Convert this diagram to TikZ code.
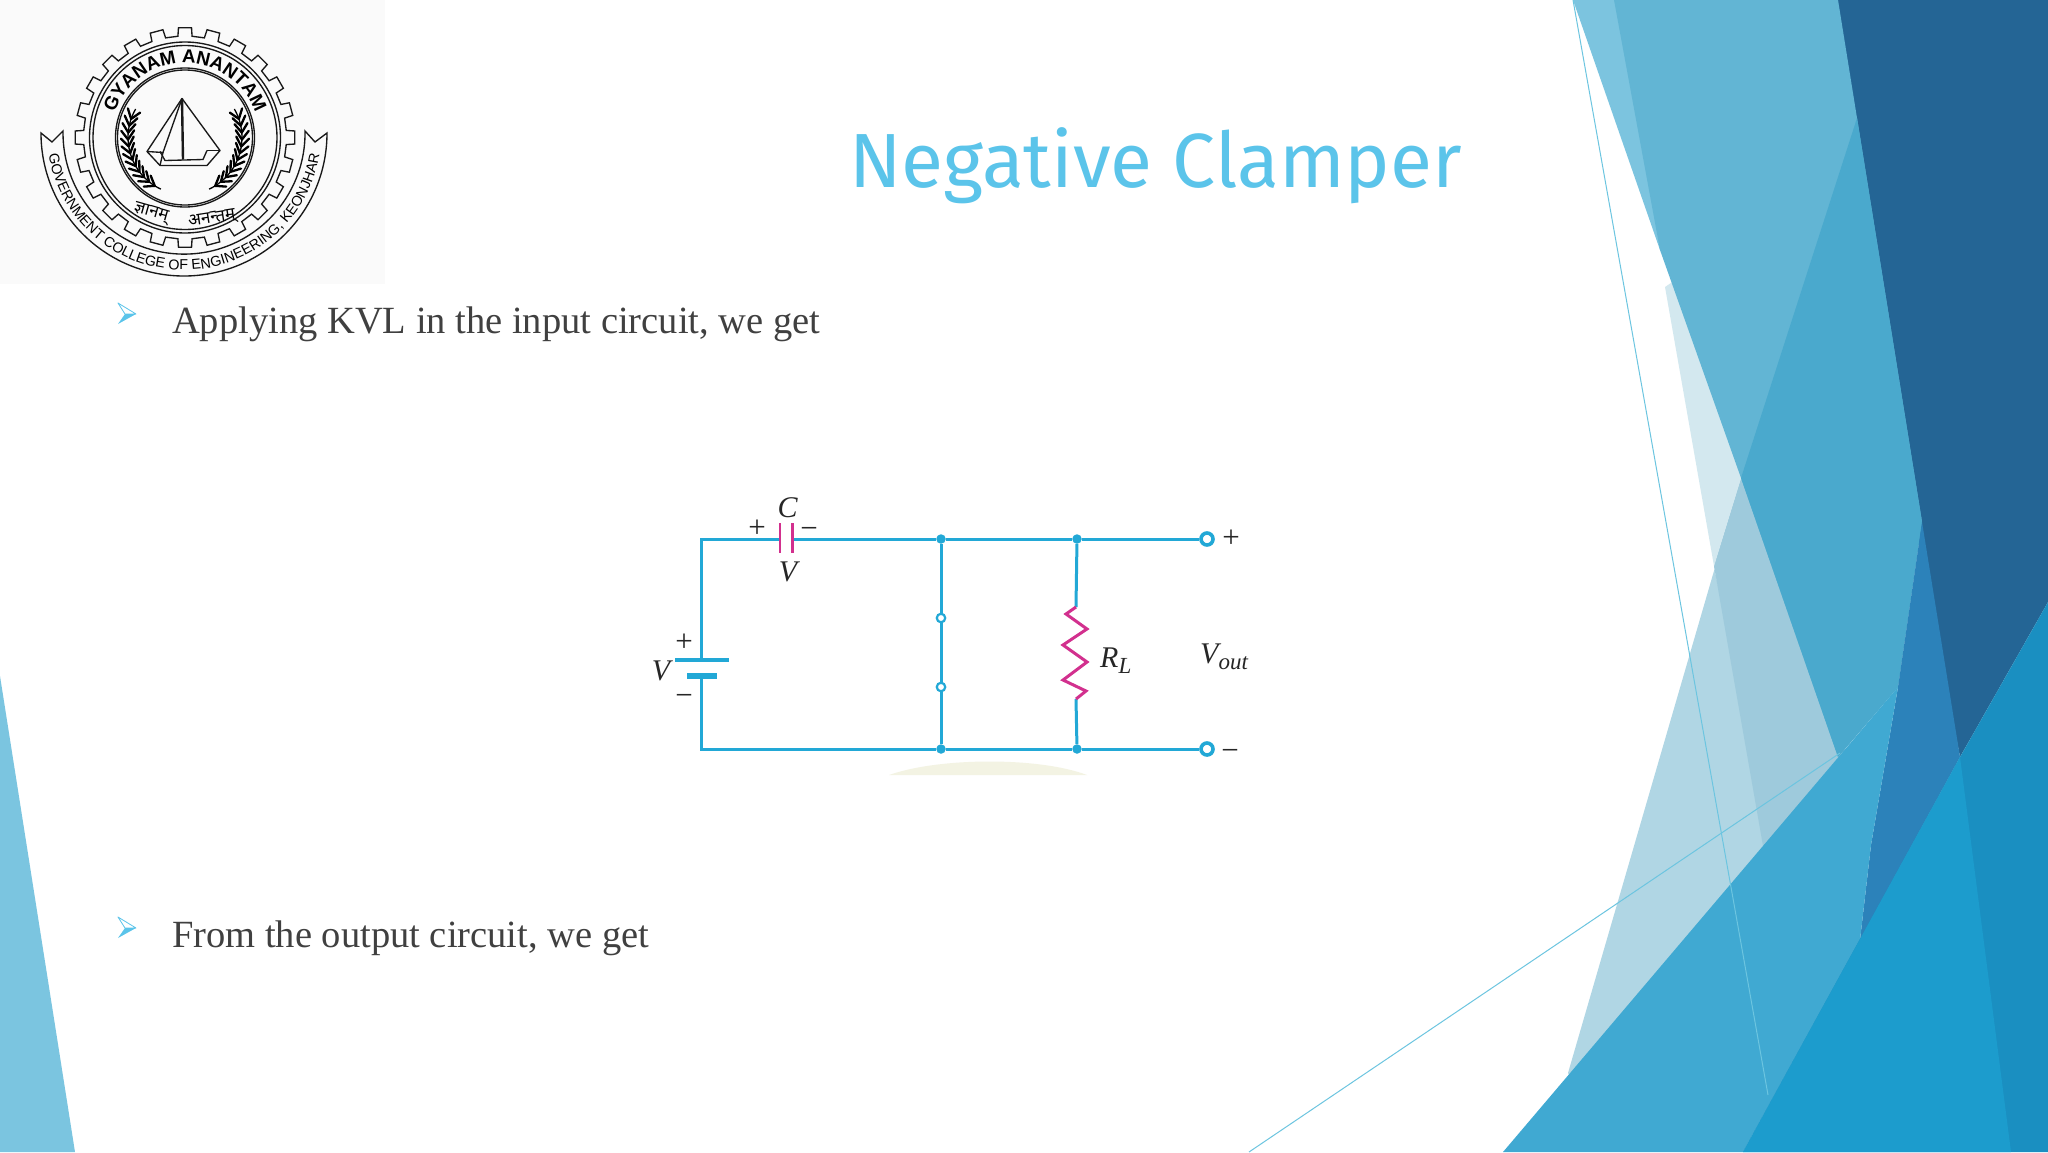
\documentclass[tikz,border=0pt]{standalone}
\usepackage{fontspec}
\setmainfont{Liberation Serif}
\newfontfamily\titlefont{Fira Sans}
\newfontfamily\logofont{Liberation Sans}
\newfontfamily\devfont[Script=Devanagari]{Noto Sans}
\usetikzlibrary{decorations.text}
\definecolor{wirecol}{HTML}{22A8D6}
\definecolor{pinkcol}{HTML}{D2308E}
\definecolor{txtcol}{HTML}{404040}
\definecolor{ttlcol}{HTML}{5BC4EA}
\definecolor{facA}{HTML}{D3E8EF}\definecolor{facB}{HTML}{B0D6E4}\definecolor{facC}{HTML}{9ECADC}
\definecolor{facD}{HTML}{62B5D4}\definecolor{facE}{HTML}{7CC4DF}\definecolor{facF}{HTML}{4AA9CD}
\definecolor{facG}{HTML}{246595}\definecolor{facH}{HTML}{2C82BA}\definecolor{facI}{HTML}{1A8FC1}
\definecolor{facJ}{HTML}{40A9D2}\definecolor{facK}{HTML}{1C9CCD}\definecolor{facL}{HTML}{7BC5E0}
\definecolor{palecol}{HTML}{F3F3E3}
\definecolor{linecol}{HTML}{6CC5E0}
\tikzset{
  wire/.style={draw=wirecol,line width=3pt},
  plate/.style={draw=pinkcol,line width=2.4pt},
  dotn/.style={circle,fill=wirecol,inner sep=0pt,minimum size=9.5pt},
  ringn/.style={circle,draw=wirecol,fill=white,line width=2.2pt,inner sep=0pt,minimum size=8.5pt},
  term/.style={circle,draw=wirecol,fill=white,line width=3.6pt,inner sep=0pt,minimum size=12pt},
  bodytxt/.style={anchor=base west,inner sep=0pt,text=txtcol,font=\fontsize{38.5}{38.5}\selectfont},
  lab/.style={inner sep=0pt,font=\fontsize{30}{30}\selectfont\itshape,text=black!85},
  sym/.style={inner sep=0pt,font=\fontsize{31}{31}\selectfont,text=black!85},
  thinln/.style={draw=linecol,line width=1pt},
  logoln/.style={draw=black!90,line width=1.35pt},
}
\newcommand{\sprigdraw}{%
  \draw[line width=1.3pt,black] (245:57) arc (245:150:57);
  \foreach \a in {238,231,...,155}{
    \draw[line width=2.3pt,line cap=round,black] (\a:57) -- ++(\a-90+36:11);
    \draw[line width=2.3pt,line cap=round,black] (\a:57) -- ++(\a-90-36:11);
  }
}
\begin{document}
\begin{tikzpicture}[x=1pt,y=-1pt]
\useasboundingbox (0,0) rectangle (2048,1152);
\fill[white] (0,0) rectangle (2048,1152);
% --- background facets, right side
\fill[facG] (1830,0) -- (2048,0) -- (2048,602) -- (1960,757) -- (1915,522) -- cycle;
\fill[facE] (1573,0) -- (1620,0) -- (1665,255) -- (1660,250) -- cycle;
\fill[facB] (1741,478) -- (1714,566) -- (1770,850) -- (1575,1085) -- (1568,1073) -- cycle;
\fill[facC] (1741,478) -- (1846,752) -- (1775,850) -- (1763,846) -- (1714,566) -- cycle;
\fill[facA] (1665,287) -- (1690,270) -- (1750,470) -- (1741,478) -- (1714,566) -- cycle;
\fill[facD] (1614,0) -- (1838,0) -- (1922,522) -- (1898,687) -- (1838,757) -- (1741,478) -- (1660,250) -- cycle;
\fill[facF] (1857,118) -- (1922,522) -- (1898,687) -- (1838,757) -- (1741,478) -- cycle;
\fill[facH] (1922,522) -- (1960,757) -- (1860,940) -- (1871,845) -- (1898,687) -- cycle;
\fill[facJ] (1898,687) -- (1503,1152) -- (1743,1152) -- (1860,940) -- (1871,845) -- cycle;
\fill[facI] (2048,602) -- (2048,1152) -- (1743,1152) -- (1960,757) -- cycle;
\fill[facK] (1960,757) -- (1743,1152) -- (2011,1152) -- cycle;
\coordinate (l1a) at (1573,0);\coordinate (l1b) at (1768,1095);
\coordinate (l2a) at (1249,1152);\coordinate (l2b) at (1840,753);
\draw[thinln] (l1a) -- (l1b);
\draw[thinln] (l2a) -- (l2b);
% --- bottom-left facet
\fill[facL] (0,676) -- (75,1152) -- (0,1152) -- cycle;
% --- logo
\fill[black!2] (0,0) rectangle (385,284);
\begin{scope}[shift={(185,137.5)},x=1pt,y=1pt]
  \draw[logoln] (-4:101.5) \foreach \i in {0,15,...,345}{
     -- (\i-4.0:101.5) -- (\i-3.4:110) -- (\i+3.4:110) -- (\i+4.0:101.5) -- (\i+11:101.5)
  } -- cycle;
  \draw[logoln] (0,0) circle (95.5);
  \draw[logoln] (0,0) circle (92);
  \draw[logoln] (0,0) circle (69.5);
  \draw[logoln] (0,0) circle (67.5);
  % top text
  \path[decorate,decoration={text along path,text align=center,
     text={|\logofont\bfseries\fontsize{18.8}{18.8}\selectfont|GYANAM ANANTAM}}]
     (175:74.5) arc (175:5:74.5);
  % sprigs
  \begin{scope}\sprigdraw\end{scope}
  \begin{scope}[xscale=-1]\sprigdraw\end{scope}
  % diamond
  \draw[logoln,line join=round] (-3,39) -- (-38,-14) -- (-25,-28) -- (22,-28) -- (35,-13) -- cycle;
  \draw[logoln] (-38,-14) -- (-22,-15) -- (-25,-28);
  \draw[logoln] (-22,-15) -- (-3,39);
  \draw[logoln] (22,-13) -- (35,-13);
  \draw[logoln] (22,-13) -- (18,-22) -- (-20,-23) -- (-25,-14);
  \draw[black!90,line width=2.4pt] (-3,39) -- (-2,-22);
  % banner
  \begin{scope}[shift={(-1,4.5)}]
    \draw[logoln,line join=miter]
      (180:143) arc (180:360:143) -- (131,-9) -- (121,2) arc (361:179:121) -- (-132,-9) -- cycle;
    \path[decorate,decoration={text along path,text align=center,
      text={|\logofont\fontsize{14.3}{14.3}\selectfont|GOVERNMENT COLLEGE OF ENGINEERING, KEONJHAR}}]
      (180:137) arc (180:360:137);
  \end{scope}
  \node[inner sep=0pt,rotate=-16,font=\devfont\fontsize{17}{17}\selectfont] (dv1) at (-34,-76) {ज्ञानम्};
  \node[inner sep=0pt,rotate=9,font=\devfont\fontsize{17}{17}\selectfont] (dv2) at (27,-82) {अनन्तम्};
\end{scope}
% --- title
\node[anchor=base west,inner sep=0pt,text=ttlcol,font=\titlefont\fontsize{76.8}{76.8}\selectfont] (title) at (849,187) {Negative Clamper};
% --- bullets and text
\foreach \yo in {0,614}{
  \begin{scope}[yshift=-\yo pt]
    \fill[ttlcol] (118,324) -- (136,314) -- (125,314) -- cycle;
    \draw[ttlcol,line width=0.8pt,line join=round] (118,303) -- (136,314) -- (125,314) -- cycle;
  \end{scope}
}
\node[bodytxt] (t1) at (172,333) {Applying KVL in the input circuit, we get};
\node[bodytxt] (t2) at (172,947) {From the output circuit, we get};
% --- circuit
\fill[palecol] (889,775) .. controls (940,757) and (1040,757) .. (1087,775) -- cycle;
\coordinate (tl) at (701.5,539);
\coordinate (bl) at (701.5,749);
\coordinate (batA) at (701.5,660);
\coordinate (batB) at (701.5,676);
\coordinate (capA) at (780,539);
\coordinate (capB) at (792.5,539);
\node[dotn] (n1) at (941,539) {};
\node[dotn] (n2) at (1077,539) {};
\node[dotn] (n3) at (941,749) {};
\node[dotn] (n4) at (1077,749) {};
\node[term] (to) at (1207,539) {};
\node[term] (bo) at (1207,749) {};
\coordinate (ra) at (1076,607);
\coordinate (rb) at (1076,699);
\draw[wire,line join=miter] (batA) -- (tl) -- (capA);
\draw[wire] (capB) -- (n1) -- (n2) -- (to);
\draw[wire,line join=miter] (batB) -- (bl) -- (n3) -- (n4) -- (bo);
\draw[wire] (n1) -- (n3);
\draw[wire] (n2) -- (ra);
\draw[wire] (rb) -- (n4);
\node[ringn] (d1) at (941,618) {};
\node[ringn] (d2) at (941,687) {};
\draw[plate] (780,523) -- (780,553);
\draw[plate] (792.5,523) -- (792.5,553);
\draw[wire,line width=3.2pt] (675,660) -- (729,660);
\draw[wire,line width=5.5pt] (687,676) -- (717,676);
\draw[draw=pinkcol,line width=3pt,line join=miter] (ra) -- (1066,614) -- (1087,629) -- (1063,645) -- (1087,662) -- (1063,680) -- (1086,691) -- (rb);
\node[lab] (lc) at (787.5,508) {C};
\node[lab] (lv) at (788,572) {V};
\node[sym] (lp) at (757,529) {+};
\node[sym] (lm) at (809,533) {\textminus};
\node[sym] (tp) at (1231,539) {+};
\node[sym] (tm) at (1230,755) {\textminus};
\node[lab] (bv) at (661,671) {V};
\node[sym] (bp) at (684,643) {+};
\node[sym] (bm) at (684,700) {\textminus};
\node[lab,anchor=base west] (rl) at (1100,667) {R\raisebox{-6pt}{\fontsize{23}{23}\selectfont L}};
\node[lab,anchor=base west] (vo) at (1200,663) {V\raisebox{-6pt}{\fontsize{23}{23}\selectfont out}};
\end{tikzpicture}
\end{document}
